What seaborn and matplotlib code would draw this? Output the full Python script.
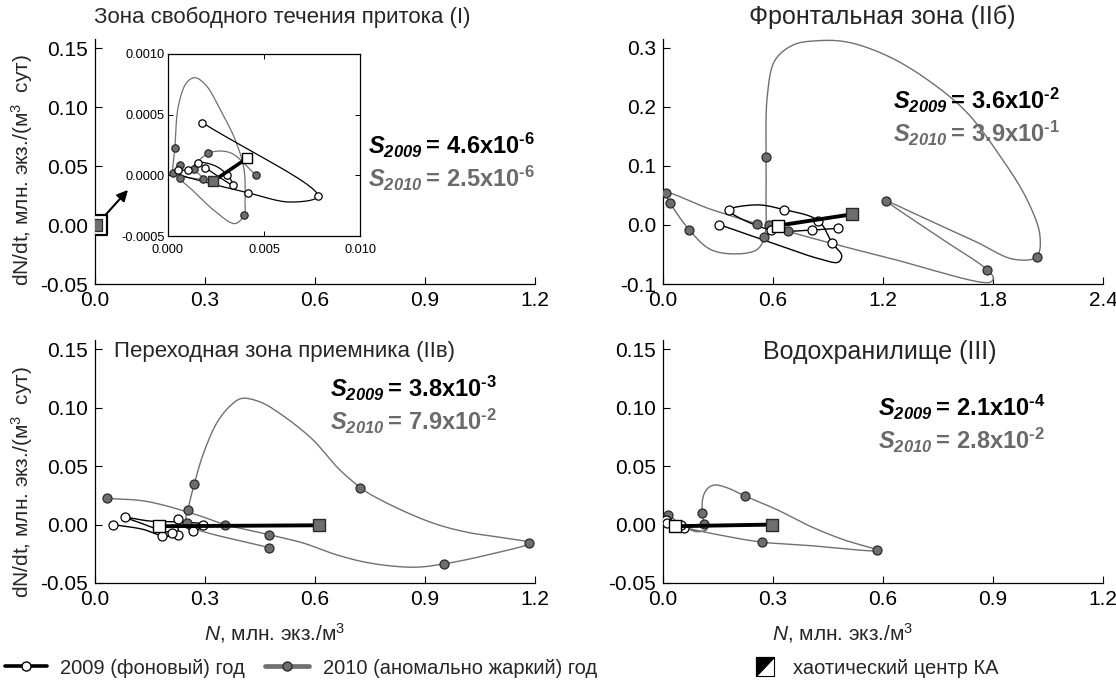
import numpy as np
import matplotlib
matplotlib.use("Agg")
import matplotlib.pyplot as plt
import seaborn as sns
from matplotlib import font_manager
from matplotlib.lines import Line2D
from matplotlib.patches import Polygon, Rectangle
from matplotlib.legend_handler import HandlerBase

# ---------------------------------------------------------------------------
# Phase trajectories dN/dt vs N. Each series: trajectory knots (N, dN/dt) and a
# flag list marking which knots are sampling dates (drawn with a marker).
# ---------------------------------------------------------------------------

# Zone I (free-flow tributary), shown in the inset
I_N_09 = [1.79e-3, 7.80e-3, 6.35e-3, 4.15e-3, 2.19e-3, 0.45e-3, 0.50e-3, 1.06e-3,
          1.58e-3, 2.54e-3, 3.09e-3, 3.40e-3, 1.93e-3]
I_D_09 = [0.434e-3, -0.171e-3, -0.220e-3, -0.143e-3, -0.066e-3, 0.022e-3, 0.041e-3,
          0.044e-3, 0.105e-3, 0.072e-3, 0.0, -0.080e-3, 0.063e-3]
I_M_09 = [1, 1, 0, 1, 0, 0, 1, 1, 1, 0, 1, 1, 1]

I_N_10 = [0.625e-3, 0.28e-3, 0.36e-3, 0.54e-3, 0.97e-3, 1.41e-3, 2.01e-3, 2.71e-3,
          3.49e-3, 3.96e-3, 4.01e-3, 3.97e-3, 3.49e-3, 2.54e-3, 1.32e-3, 0.625e-3,
          1.84e-3, 1.37e-3, 2.10e-3, 3.23e-3, 4.58e-3]
I_D_10 = [0.085e-3, 0.022e-3, 0.228e-3, 0.571e-3, 0.764e-3, 0.805e-3, 0.736e-3,
          0.544e-3, 0.297e-3, 0.049e-3, -0.198e-3, -0.324e-3, -0.398e-3, -0.308e-3,
          -0.129e-3, -0.019e-3, -0.027e-3, 0.055e-3, 0.181e-3, 0.187e-3, 0.002e-3]
I_M_10 = [1, 1, 1, 0, 0, 0, 0, 0, 0, 0, 0, 1, 0, 0, 0, 1, 1, 1, 1, 0, 1]

I_CENTER_09 = (4.11e-3, 0.140e-3)
I_CENTER_10 = (2.36e-3, -0.047e-3)

# Zone IIб (frontal zone)
II_N_09 = [0.307, 0.584, 0.856, 0.956, 0.975, 0.924, 0.847, 0.660, 0.511, 0.362,
           0.587, 0.811, 0.956]
II_D_09 = [0.0006, -0.0294, -0.0576, -0.063, -0.052, -0.031, 0.0073, 0.026, 0.034,
           0.025, -0.0085, -0.0085, -0.0056]
II_M_09 = [1, 0, 0, 0, 0, 1, 1, 1, 0, 1, 1, 1, 1]

II_N_10 = [0.511, 0.256, 0.016, 0.038, 0.144, 0.256, 0.384, 0.511, 0.553, 0.562,
           0.562, 0.569, 0.611, 0.711, 0.838, 1.002, 1.220, 1.438, 1.656, 1.838,
           1.984, 2.056, 2.038, 1.911, 1.711, 1.475, 1.256, 1.217, 1.493, 1.769,
           1.802, 1.784, 1.256, 0.684, 0.580]
II_D_10 = [0.002, 0.027, 0.054, 0.038, -0.0085, -0.041, -0.049, -0.042, -0.021, 0.050,
           0.115, 0.219, 0.279, 0.305, 0.312, 0.310, 0.287, 0.247, 0.191, 0.117,
           0.044, -0.018, -0.054, -0.058, -0.029, 0.0045, 0.036, 0.041, -0.018,
           -0.076, -0.090, -0.097, -0.058, -0.011, 0.0]
II_M_10 = [1, 0, 1, 1, 1, 0, 0, 0, 1, 0, 1, 0, 0, 0, 0, 0, 0, 0, 0, 0, 0, 0, 1, 0, 0,
           0, 0, 1, 0, 1, 0, 0, 0, 1, 1]

II_CENTER_09 = (0.629, -0.001)
II_CENTER_10 = (1.03, 0.018)

# Zone IIв (transition zone of the receiving water body)
IIV_N_09 = [0.049, 0.13, 0.184, 0.225, 0.225, 0.266, 0.294, 0.25, 0.15, 0.081,
            0.11, 0.18, 0.211]
IIV_D_09 = [0.0, -0.004, -0.0095, -0.0086, 0.0052, -0.0058, 0.0, 0.002, 0.003,
            0.0063, 0.003, -0.005, -0.0072]
IIV_M_09 = [1, 0, 1, 1, 1, 1, 1, 0, 0, 1, 0, 0, 1]

IIV_N_10 = [0.033, 0.138, 0.275, 0.355, 0.475, 0.568, 0.659, 0.751, 0.870, 0.952,
            1.071, 1.184, 1.117, 1.025, 0.934, 0.842, 0.751, 0.724, 0.667, 0.593,
            0.50, 0.45, 0.40, 0.37, 0.334, 0.297, 0.271, 0.254, 0.250, 0.475]
IIV_D_10 = [0.0224, 0.020, 0.0086, 0.0, -0.0086, -0.0158, -0.0259, -0.033, -0.0365,
            -0.0336, -0.0259, -0.0158, -0.0115, -0.0072, 0.0, 0.0115, 0.0259,
            0.0316, 0.047, 0.073, 0.096, 0.105, 0.108, 0.102, 0.088, 0.062, 0.0351,
            0.0129, 0.0015, -0.020]
IIV_M_10 = [1, 0, 0, 1, 1, 0, 0, 0, 0, 1, 0, 1, 0, 0, 0, 0, 0, 1, 0, 0, 0, 0, 0, 0,
            0, 0, 1, 1, 1, 1]

IIV_CENTER_09 = (0.175, -0.0014)
IIV_CENTER_10 = (0.611, -0.0006)

# Zone III (reservoir)
III_N_09 = [0.008, 0.012, 0.045, 0.058, 0.05]
III_D_09 = [0.004, 0.001, -0.002, -0.003, 0.0]
III_M_09 = [1, 1, 1, 1, 1]

III_N_10 = [0.014, 0.05, 0.09, 0.12, 0.113, 0.107, 0.110, 0.124, 0.142, 0.174, 0.224,
            0.310, 0.401, 0.492, 0.584, 0.401, 0.269, 0.174, 0.083, 0.046]
III_D_10 = [0.0086, 0.0, -0.006, -0.004, 0.0006, 0.0095, 0.0244, 0.0316, 0.0339,
            0.0316, 0.0244, 0.0129, -0.0014, -0.0129, -0.0221, -0.018, -0.015,
            -0.0101, -0.0043, -0.0014]
III_M_10 = [1, 0, 0, 0, 1, 1, 0, 0, 0, 0, 1, 0, 0, 0, 1, 0, 1, 0, 0, 0]

III_CENTER_09 = (0.033, -0.0014)
III_CENTER_10 = (0.296, 0.0)

# Attractor-centre divergence: (mantissa, power of ten) for 2009 and 2010
S_I = [("4.6", "-6"), ("2.5", "-6")]
S_II = [("3.6", "-2"), ("3.9", "-1")]
S_IIV = [("3.8", "-3"), ("7.9", "-2")]
S_III = [("2.1", "-4"), ("2.8", "-2")]

TITLES = ["Зона свободного течения притока (I)", "Фронтальная зона (IIб)",
          "Переходная зона приемника (IIв)", "Водохранилище (III)"]
Y_LABEL = "dN/dt, млн. экз./(м$^3$  сут)"
X_LABEL = "$\\mathit{N}$, млн. экз./м$^3$"
LEGEND_LABELS = ["2009 (фоновый) год", "2010 (аномально жаркий) год",
                 "хаотический центр КА"]

TICKS_SMALL_X = [0.0, 0.3, 0.6, 0.9, 1.2]
TICKS_SMALL_Y = [-0.05, 0.0, 0.05, 0.10, 0.15]
TICKS_II_X = [0.0, 0.6, 1.2, 1.8, 2.4]
TICKS_II_Y = [-0.1, 0.0, 0.1, 0.2, 0.3]
TICKS_INSET_X = [0.0, 0.005, 0.010]
TICKS_INSET_Y = [-0.0005, 0.0, 0.0005, 0.0010]

# ---------------------------------------------------------------------------
sns.set_theme(style="ticks")
available = {f.name for f in font_manager.fontManager.ttflist}
MAIN = "Liberation Sans" if "Liberation Sans" in available else "DejaVu Sans"
NARROW = "Liberation Sans Narrow" if "Liberation Sans Narrow" in available else MAIN
plt.rcParams.update({
    "font.family": [MAIN, "DejaVu Sans"],
    "axes.unicode_minus": False,
    "mathtext.fontset": "custom",
    "mathtext.rm": MAIN,
    "mathtext.it": MAIN + ":italic",
    "mathtext.bf": MAIN + ":bold",
    "figure.facecolor": "white",
    "axes.facecolor": "white",
})
HAS_BFIT = "mathtext.bfit" in plt.rcParams
if HAS_BFIT:
    plt.rcParams["mathtext.bfit"] = MAIN + ":italic:bold"

GRAY_LINE = "#707070"
GRAY_FACE = "#6e6e6e"
GRAY_EDGE = "#2a2a2a"
GRAY_TEXT = "#6a6a6a"
HYPHEN = "\u2010"

W, H = 1116, 686
fig = plt.figure(figsize=(W / 100, H / 100), dpi=100)


def fx(px):
    return px / W


def fy(py):
    return 1 - py / H


def catmull_rom(xs, ys, sx, sy, n=40, alpha=0.5):
    """Centripetal Catmull-Rom curve through the knots (scaled by sx, sy)."""
    P = np.column_stack([np.asarray(xs, float) / sx, np.asarray(ys, float) / sy])
    if len(P) < 3:
        return np.asarray(xs, float), np.asarray(ys, float)
    P = np.vstack([2 * P[0] - P[1], P, 2 * P[-1] - P[-2]])
    out = []
    for i in range(len(P) - 3):
        p0, p1, p2, p3 = P[i], P[i + 1], P[i + 2], P[i + 3]
        t0 = 0.0
        t1 = t0 + max(np.linalg.norm(p1 - p0), 1e-9) ** alpha
        t2 = t1 + max(np.linalg.norm(p2 - p1), 1e-9) ** alpha
        t3 = t2 + max(np.linalg.norm(p3 - p2), 1e-9) ** alpha
        t = np.linspace(t1, t2, n)[:, None]
        A1 = (t1 - t) / (t1 - t0) * p0 + (t - t0) / (t1 - t0) * p1
        A2 = (t2 - t) / (t2 - t1) * p1 + (t - t1) / (t2 - t1) * p2
        A3 = (t3 - t) / (t3 - t2) * p2 + (t - t2) / (t3 - t2) * p3
        B1 = (t2 - t) / (t2 - t0) * A1 + (t - t0) / (t2 - t0) * A2
        B2 = (t3 - t) / (t3 - t1) * A2 + (t - t1) / (t3 - t1) * A3
        C = (t2 - t) / (t2 - t1) * B1 + (t - t1) / (t2 - t1) * B2
        out.append(C if i == 0 else C[1:])
    C = np.vstack(out)
    return C[:, 0] * sx, C[:, 1] * sy


def style_axes(ax, xlim, ylim, xticks, yticks, xfmt, yfmt, labelsize=15, full_box=False):
    ax.set_xlim(*xlim)
    ax.set_ylim(*ylim)
    ax.set_xticks(xticks)
    ax.set_yticks(yticks)
    ax.set_xticklabels([xfmt.format(v) for v in xticks])
    ax.set_yticklabels([yfmt.format(v) for v in yticks])
    ax.grid(False)
    if full_box:
        ax.tick_params(direction="in", length=3.5, width=0.7, labelsize=labelsize,
                       top=True, right=True, colors="black")
        ax.tick_params(axis="x", pad=6)
        ax.tick_params(axis="y", pad=2.5)
    else:
        sns.despine(ax=ax)
        ax.tick_params(direction="in", length=5, width=0.8, labelsize=labelsize,
                       pad=5, colors="black")
    for sp in ax.spines.values():
        sp.set_color("black")
        sp.set_linewidth(0.9)


def draw_series(ax, n, d, m, year, sx, sy, s=42, lw=1.0):
    xs, ys = catmull_rom(n, d, sx, sy)
    color = "black" if year == 2009 else GRAY_LINE
    sns.lineplot(x=xs, y=ys, sort=False, estimator=None, color=color, lw=lw, ax=ax,
                 zorder=2)
    idx = np.flatnonzero(m)
    face = "white" if year == 2009 else GRAY_FACE
    edge = "black" if year == 2009 else GRAY_EDGE
    sns.scatterplot(x=np.asarray(n)[idx], y=np.asarray(d)[idx], s=s, color=face,
                    edgecolor=edge, linewidth=0.9, ax=ax, zorder=3)


def draw_centers(ax, c09, c10, size=80, lw=2.8):
    ax.plot([c09[0], c10[0]], [c09[1], c10[1]], color="black", lw=lw,
            solid_capstyle="butt", zorder=4)
    sns.scatterplot(x=[c10[0]], y=[c10[1]], marker="s", s=size, color=GRAY_FACE,
                    edgecolor=GRAY_EDGE, linewidth=1.0, ax=ax, zorder=5)
    sns.scatterplot(x=[c09[0]], y=[c09[1]], marker="s", s=size, color="white",
                    edgecolor="black", linewidth=1.0, ax=ax, zorder=6)


def s_label(year, mant, power):
    if HAS_BFIT:
        head = r"\mathbfit{S}_{\mathbfit{" + str(year) + "}}"
    else:
        head = r"\mathbf{S}_{\mathbf{" + str(year) + "}}"
    exp_txt = power.replace("-", HYPHEN)
    return ("$" + head + r"\mathbf{=}\,\mathbf{" + mant + r"}{\mathbf{x}}"
            + r"\mathbf{10}^{\mathbf{" + exp_txt + "}}$")


def put_s(xp, yp, svals):
    fig.text(fx(xp), fy(yp), s_label(2009, *svals[0]), ha="left", va="center",
             fontsize=17, color="black")
    fig.text(fx(xp), fy(yp + 33), s_label(2010, *svals[1]), ha="left", va="center",
             fontsize=17, color=GRAY_TEXT)


# axes geometry (pixels)
LEFT_A, LEFT_B, AX_W = 95, 663, 440
TOP_ROW = (39, 284)
BOT_ROW = (340, 583)


def make_axes(left, row):
    return fig.add_axes([fx(left), fy(row[1]), fx(AX_W), (row[1] - row[0]) / H])


ax1 = make_axes(LEFT_A, TOP_ROW)
ax2 = make_axes(LEFT_B, TOP_ROW)
ax3 = make_axes(LEFT_A, BOT_ROW)
ax4 = make_axes(LEFT_B, BOT_ROW)
axin = fig.add_axes([fx(168), fy(236), fx(192), 182 / H])

SMALL_LIM = ((0, 1.2), (-0.05, 0.158))
II_LIM = ((0, 2.4), (-0.1, 0.315))
INSET_LIM = ((0, 0.010), (-0.0005, 0.0010))

for ax in (ax1, ax3, ax4):
    style_axes(ax, *SMALL_LIM, TICKS_SMALL_X, TICKS_SMALL_Y, "{:.1f}", "{:.2f}")
style_axes(ax2, *II_LIM, TICKS_II_X, TICKS_II_Y, "{:.1f}", "{:.1f}")
style_axes(axin, *INSET_LIM, TICKS_INSET_X, TICKS_INSET_Y, "{:.3f}", "{:.4f}",
           labelsize=9.2, full_box=True)


def scales(lim, ax_h_px):
    (x0, x1), (y0, y1) = lim
    return (x1 - x0) / AX_W, (y1 - y0) / ax_h_px


# Zone I: inset with the trajectories, main axes only show the zoom frame
sx, sy = (0.010 / 192, 0.0015 / 182)
draw_series(axin, I_N_10, I_D_10, I_M_10, 2010, sx, sy, s=28, lw=0.9)
draw_series(axin, I_N_09, I_D_09, I_M_09, 2009, sx, sy, s=28, lw=0.9)
draw_centers(axin, I_CENTER_09, I_CENTER_10, size=60, lw=2.6)

sns.scatterplot(x=[I_CENTER_09[0]], y=[I_CENTER_09[1]], marker="s", s=190,
                color="white", edgecolor="black", linewidth=1.6, ax=ax1, zorder=5)
sns.scatterplot(x=[I_CENTER_10[0]], y=[I_CENTER_10[1]], marker="s", s=75,
                color=GRAY_FACE, edgecolor=GRAY_EDGE, linewidth=0.9, ax=ax1, zorder=6)
ax1.annotate("", xy=(0.075, 0.384), xycoords="axes fraction",
             xytext=I_CENTER_09, textcoords="data",
             arrowprops=dict(arrowstyle="-|>", color="black", lw=1.5,
                             shrinkA=7, shrinkB=0, mutation_scale=16))

# Zone IIб
sx, sy = scales(II_LIM, 245)
draw_series(ax2, II_N_10, II_D_10, II_M_10, 2010, sx, sy)
draw_series(ax2, II_N_09, II_D_09, II_M_09, 2009, sx, sy)
draw_centers(ax2, II_CENTER_09, II_CENTER_10)

# Zone IIв
sx, sy = scales(SMALL_LIM, 243)
draw_series(ax3, IIV_N_10, IIV_D_10, IIV_M_10, 2010, sx, sy)
draw_series(ax3, IIV_N_09, IIV_D_09, IIV_M_09, 2009, sx, sy)
draw_centers(ax3, IIV_CENTER_09, IIV_CENTER_10)

# Zone III
draw_series(ax4, III_N_10, III_D_10, III_M_10, 2010, sx, sy)
draw_series(ax4, III_N_09, III_D_09, III_M_09, 2009, sx, sy)
draw_centers(ax4, III_CENTER_09, III_CENTER_10)

for ax in (ax1, ax2, ax3, ax4, axin):
    ax.set_xlabel("")
    ax.set_ylabel("")
    if ax.get_legend() is not None:
        ax.get_legend().remove()

# panel titles
for (xp, yp, size), title in zip([(282, 17, 16), (882, 17, 18),
                                  (284, 352, 16), (880, 352, 18)], TITLES):
    fig.text(fx(xp), fy(yp), title, ha="center", va="center", fontsize=size)

# S values
put_s(368, 145, S_I)
put_s(893, 100, S_II)
put_s(330, 388, S_IIV)
put_s(878, 407, S_III)

# axis labels
for yp in (170, 482):
    fig.text(fx(22), fy(yp), Y_LABEL, rotation=90, ha="center", va="center",
             fontsize=15)
for xp in (275, 843):
    fig.text(fx(xp), fy(633), X_LABEL, ha="center", va="center", fontsize=15,
             family=[NARROW, MAIN])


# legend
class SplitSquare:
    pass


class SplitSquareHandler(HandlerBase):
    def create_artists(self, legend, orig_handle, xdescent, ydescent, width, height,
                       fontsize, trans):
        side = height * 1.3
        x0 = -xdescent + (width - side) / 2
        y0 = -ydescent + (height - side) / 2
        box = Rectangle((x0, y0), side, side, fc="white", ec="black", lw=0.8,
                        transform=trans)
        tri = Polygon([[x0, y0], [x0, y0 + side], [x0 + side, y0 + side]],
                      closed=True, fc="black", ec="black", lw=0.8, transform=trans)
        return [box, tri]


h09 = Line2D([], [], color="black", lw=2.6, marker="o", ms=6.5, mfc="white",
             mec="black", mew=1.0)
h10 = Line2D([], [], color=GRAY_LINE, lw=3.4, marker="o", ms=6.5, mfc=GRAY_FACE,
             mec=GRAY_EDGE, mew=1.0)
hc = SplitSquare()
leg_font = dict(family=[NARROW, MAIN], size=14.5)
for handle, label, xp, hl, htp in [(h09, LEGEND_LABELS[0], 5, 2.1, 0.65),
                                   (h10, LEGEND_LABELS[1], 265, 2.2, 0.7),
                                   (hc, LEGEND_LABELS[2], 753, 1.2, 0.8)]:
    fig.legend([handle], [label], loc="center left",
               bbox_to_anchor=(fx(xp), fy(668)), frameon=False, prop=leg_font,
               borderpad=0, borderaxespad=0, handlelength=hl,
               handletextpad=htp, handler_map={SplitSquare: SplitSquareHandler()})

fig.savefig("out.png", dpi=100)
